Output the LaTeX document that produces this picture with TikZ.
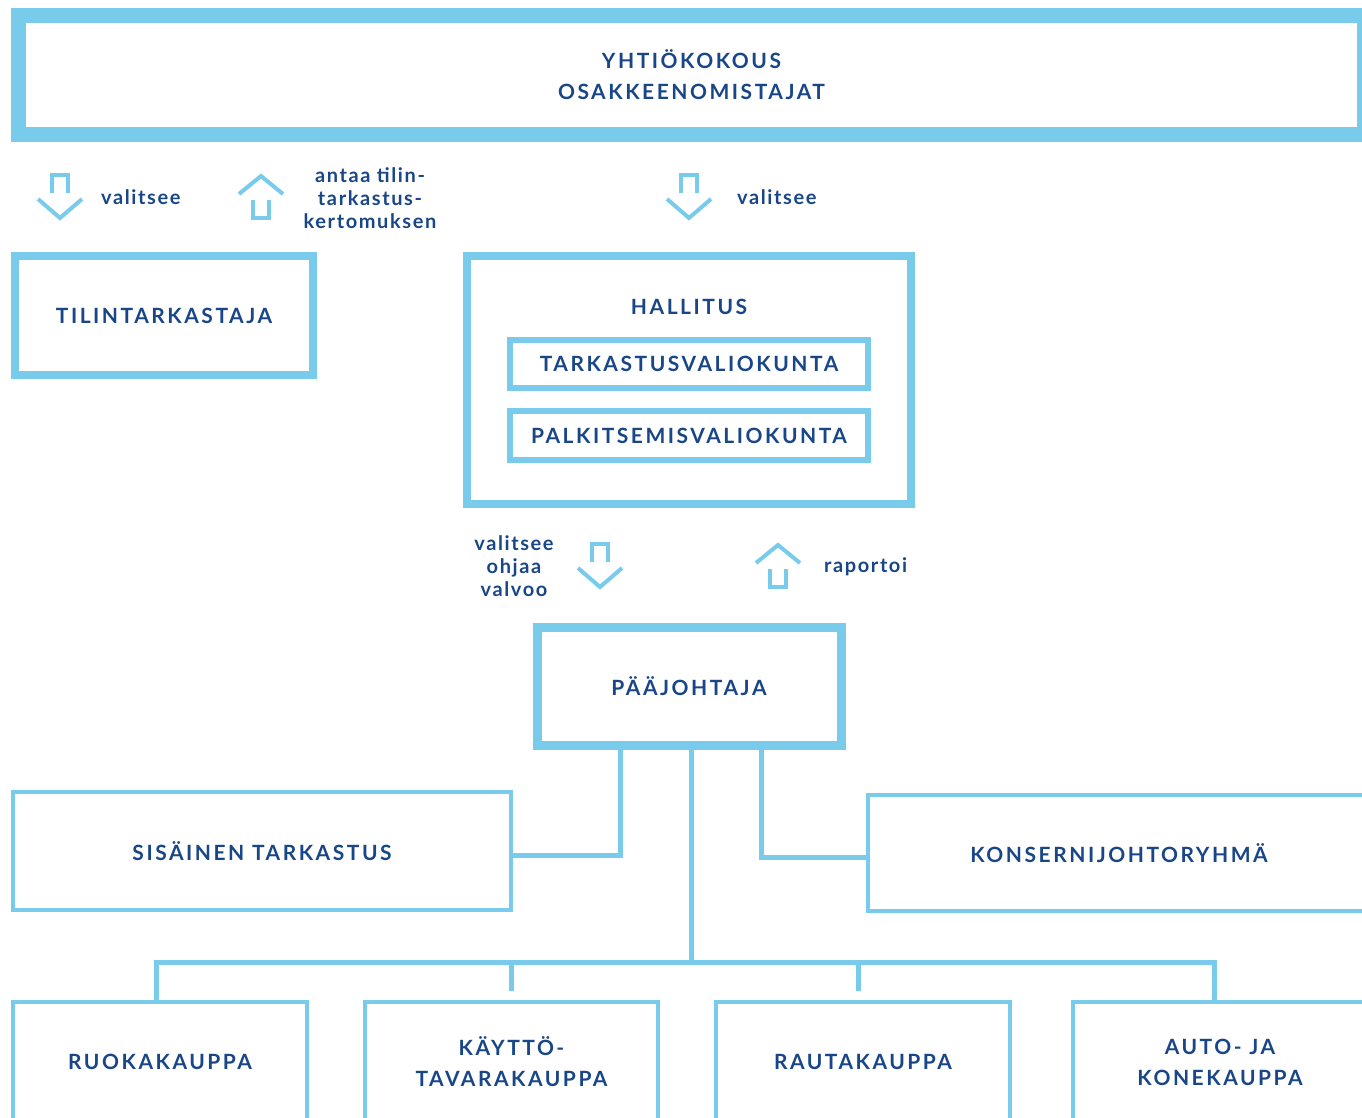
\documentclass[tikz,border=0pt]{standalone}
\usepackage{fontspec}
\setmainfont{Lato}[LetterSpace=8]
\newfontfamily\capsfont{Lato}[LetterSpace=12]
\definecolor{skyblue1}{RGB}{120, 203, 234}
\definecolor{navy1}{RGB}{25, 70, 135}
\tikzset{
  orgbox/.style={draw=skyblue1, line width=4pt, inner sep=0pt, align=center, text=navy1,
    font=\capsfont\bfseries\fontsize{21}{31}\selectfont},
  thickbox/.style={orgbox, line width=8pt},
  subbox/.style={orgbox, line width=6pt},
  caplabel/.style={text=navy1, inner sep=0pt, font=\capsfont\bfseries\fontsize{21}{31}\selectfont},
  smalllabel/.style={text=navy1, inner sep=0pt, align=center, font=\bfseries\fontsize{20}{23}\selectfont},
  conn/.style={draw=skyblue1, line width=5pt},
  icon/.style={draw=skyblue1, line width=4pt},
  downicon/.pic={\draw[icon] (-8,-3)--(-8,-21)--(8,-21)--(8,-3); \draw[icon] (-22,3)--(0,22)--(22,3);},
  upicon/.pic={\draw[icon] (-22,-3)--(0,-21)--(22,-3); \draw[icon] (-8,3)--(-8,21)--(8,21)--(8,3);},
}
\begin{document}
\begin{tikzpicture}[x=1pt, y=-1pt]
  \useasboundingbox (0,0) rectangle (1362,1117);
  \clip (0,0) rectangle (1362,1117);
  % top level
  \node[orgbox, line width=15pt, minimum width=1346pt, minimum height=119pt] (yk) at (691.5,75) {YHTIÖKOKOUS\\OSAKKEENOMISTAJAT};
  \pic at (60,196) {downicon};
  \node[smalllabel, anchor=west] (val1) at (101,197) {valitsee};
  \pic at (261,197) {upicon};
  \node[smalllabel] (antaa) at (370,198) {antaa tilin-\\tarkastus-\\kertomuksen};
  \pic at (689,196) {downicon};
  \node[smalllabel, anchor=west] (val2) at (737,197) {valitsee};
  % auditor and board
  \node[thickbox, minimum width=298pt, minimum height=119pt] (tilint) at (164,315.5) {TILINTARKASTAJA};
  \node[thickbox, minimum width=444pt, minimum height=248pt] (hallitus) at (689,380) {};
  \node[caplabel] (hall) at (689,307) {HALLITUS};
  \node[subbox, minimum width=358pt, minimum height=48pt] (tvk) at (689,364) {TARKASTUSVALIOKUNTA};
  \node[subbox, minimum width=358pt, minimum height=49pt] (pvk) at (689,435.5) {PALKITSEMISVALIOKUNTA};
  \node[smalllabel] (ohjaa) at (514,566) {valitsee\\ohjaa\\valvoo};
  \pic at (600,565) {downicon};
  \pic at (778,566) {upicon};
  \node[smalllabel, anchor=west] (rap) at (824,567) {raportoi};
  % ceo
  \node[orgbox, line width=9pt, minimum width=304pt, minimum height=118pt] (paaj) at (689,686) {PÄÄJOHTAJA};
  \node[orgbox, minimum width=498pt, minimum height=118pt] (sis) at (262,851) {SISÄINEN TARKASTUS};
  \node[orgbox, minimum width=502pt, minimum height=116pt] (konserni) at (1119,853) {KONSERNIJOHTORYHMÄ};
  % business units
  \node[orgbox, minimum width=294pt, minimum height=120pt] (ruoka) at (160,1062) {RUOKAKAUPPA};
  \node[orgbox, minimum width=293pt, minimum height=120pt] (kaytto) at (511.5,1062) {KÄYTTÖ-\\TAVARAKAUPPA};
  \node[orgbox, minimum width=294pt, minimum height=120pt] (rauta) at (863,1062) {RAUTAKAUPPA};
  \node[orgbox, minimum width=294pt, minimum height=120pt] (auto) at (1220,1062) {AUTO- JA\\KONEKAUPPA};
  \coordinate (bus) at (691,962);
  \draw[conn] ([xshift=-69]paaj.south) |- ([yshift=-4]sis.east);
  \draw[conn] ([xshift=72]paaj.south) |- ([yshift=-4]konserni.west);
  \draw[conn] ([xshift=2]paaj.south) -- (bus);
  \draw[conn] ([xshift=-4]ruoka.north) |- (bus);
  \draw[conn] ([yshift=9]kaytto.north) |- (bus);
  \draw[conn] ([xshift=-5,yshift=9]rauta.north) |- (bus);
  \draw[conn] ([xshift=-6]auto.north) |- (bus);
\end{tikzpicture}
\end{document}
